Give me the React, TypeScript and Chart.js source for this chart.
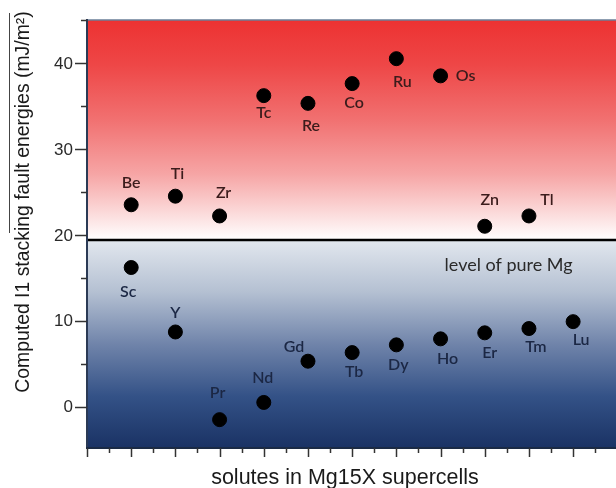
import React, { useEffect, useRef } from 'react';
import { Chart, registerables } from 'chart.js';

Chart.register(...registerables);

// ---- data ----
const topSolutes = ['Be', 'Ti', 'Zr', 'Tc', 'Re', 'Co', 'Ru', 'Os', 'Zn', 'Tl'];
const topPositions = [1, 2, 3, 4, 5, 6, 7, 8, 9, 10];
const topEnergies = [23.5, 24.5, 22.2, 36.2, 35.3, 37.6, 40.5, 38.5, 21.0, 22.2];

const bottomSolutes = ['Sc', 'Y', 'Pr', 'Nd', 'Gd', 'Tb', 'Dy', 'Ho', 'Er', 'Tm', 'Lu'];
const bottomPositions = [1, 2, 3, 4, 5, 6, 7, 8, 9, 10, 11];
const bottomEnergies = [16.2, 8.7, -1.5, 0.5, 5.3, 6.3, 7.2, 7.9, 8.6, 9.1, 9.9];

const pureMgLevel = 19.4;
const pureMgText = 'level of pure Mg';
const pureMgTextAt = { x: 9.54, y: 16.5 };

const yTickLabels = [0, 10, 20, 30, 40];
const yTitle = 'Computed I1 stacking fault energies (mJ/m\u00B2)';
const xTitle = 'solutes in Mg15X supercells';

// ---- styling (label offsets in px) ----
const topLabelOffsets = [[0, -22], [2, -22], [4, -23], [0, 17], [3, 22], [2, 19], [6, 23], [25, 0], [5, -26], [18, -16]];
const bottomLabelOffsets = [[-3, 24], [0, -19], [-2, -27], [-1, -25], [-14, -14], [2, 19], [2, 20], [7, 20], [5, 20], [7, 18], [8, 18]];

const bgPlugin = {
  id: 'bgPlugin',
  beforeDraw(chart: any) {
    const { ctx, chartArea } = chart;
    const { left, right, top, bottom } = chartArea;
    const yLine = chart.scales.y.getPixelForValue(pureMgLevel);
    ctx.save();
    const gr = ctx.createLinearGradient(0, top, 0, yLine);
    gr.addColorStop(0, 'rgb(237,50,50)');
    gr.addColorStop(0.2, 'rgb(238,70,70)');
    gr.addColorStop(0.45, 'rgb(241,112,112)');
    gr.addColorStop(0.7, 'rgb(246,165,165)');
    gr.addColorStop(1, 'rgb(255,255,255)');
    ctx.fillStyle = gr;
    ctx.fillRect(left, top, right - left, yLine - top);
    const gb = ctx.createLinearGradient(0, yLine, 0, bottom);
    gb.addColorStop(0, 'rgb(226,231,238)');
    gb.addColorStop(0.25, 'rgb(180,192,210)');
    gb.addColorStop(0.5, 'rgb(112,132,170)');
    gb.addColorStop(0.75, 'rgb(52,82,135)');
    gb.addColorStop(1, 'rgb(26,50,100)');
    ctx.fillStyle = gb;
    ctx.fillRect(left, yLine, right - left, bottom - yLine);
    ctx.restore();
  },
};

const decoPlugin = {
  id: 'decoPlugin',
  afterDatasetsDraw(chart: any) {
    const { ctx } = chart;
    ctx.save();
    ctx.font = '600 16px Lato';
    ctx.textAlign = 'center';
    ctx.textBaseline = 'middle';
    const sets = [
      { idx: 1, names: topSolutes, offs: topLabelOffsets, color: '#3b1c1c' },
      { idx: 2, names: bottomSolutes, offs: bottomLabelOffsets, color: '#1b2744' },
    ];
    for (const s of sets) {
      const meta = chart.getDatasetMeta(s.idx);
      ctx.fillStyle = s.color;
      meta.data.forEach((el: any, i: number) => {
        const o = s.offs[i] || [0, 0];
        ctx.fillText(s.names[i], el.x + o[0], el.y + o[1]);
      });
    }
    const xs = chart.scales.x;
    const ys = chart.scales.y;
    ctx.fillStyle = '#2a2a2a';
    ctx.font = '18px Lato';
    ctx.fillText(pureMgText, xs.getPixelForValue(pureMgTextAt.x), ys.getPixelForValue(pureMgTextAt.y));
    ctx.restore();
  },
  afterDraw(chart: any) {
    const { ctx, chartArea } = chart;
    const { left, right, top, bottom } = chartArea;
    const xs = chart.scales.x;
    const ys = chart.scales.y;
    ctx.save();
    // top border
    ctx.strokeStyle = '#6a7f99';
    ctx.lineWidth = 1.5;
    ctx.beginPath();
    ctx.moveTo(left, top);
    ctx.lineTo(right, top);
    ctx.stroke();
    // left axis
    ctx.strokeStyle = '#2b3a55';
    ctx.lineWidth = 2;
    ctx.beginPath();
    ctx.moveTo(left, top - 1);
    ctx.lineTo(left, bottom + 1);
    ctx.stroke();
    // bottom axis
    ctx.strokeStyle = '#1a2a45';
    ctx.beginPath();
    ctx.moveTo(left - 1, bottom);
    ctx.lineTo(right, bottom);
    ctx.stroke();
    // y ticks + labels
    ctx.strokeStyle = '#333';
    ctx.lineWidth = 1.5;
    ctx.fillStyle = '#2a2a2a';
    ctx.font = '17px "Liberation Sans", Arial, sans-serif';
    ctx.textAlign = 'right';
    ctx.textBaseline = 'middle';
    for (let v = 0; v <= ys.max; v += 5) {
      const py = Math.round(ys.getPixelForValue(v)) + 0.5;
      const len = v % 10 === 0 ? 12 : 6;
      ctx.beginPath();
      ctx.moveTo(left - len, py);
      ctx.lineTo(left, py);
      ctx.stroke();
    }
    for (const v of yTickLabels) {
      ctx.fillText(String(v), left - 14, ys.getPixelForValue(v) + 1);
    }
    // x ticks
    for (let v = 0; v <= xs.max; v += 0.5) {
      const px = Math.round(xs.getPixelForValue(v)) + 0.5;
      const len = Number.isInteger(v) ? 9 : 5;
      ctx.beginPath();
      ctx.moveTo(px, bottom);
      ctx.lineTo(px, bottom + len);
      ctx.stroke();
    }
    // y title
    ctx.fillStyle = '#1a1a1a';
    ctx.font = '19.4px "Liberation Sans", Arial, sans-serif';
    ctx.textAlign = 'center';
    ctx.textBaseline = 'middle';
    ctx.save();
    ctx.translate(24, 202);
    ctx.rotate(-Math.PI / 2);
    ctx.fillText(yTitle, 0, 0);
    ctx.restore();
    // overline
    ctx.strokeStyle = '#444';
    ctx.lineWidth = 1;
    ctx.beginPath();
    ctx.moveTo(9.5, 13);
    ctx.lineTo(9.5, 233);
    ctx.stroke();
    // x title
    ctx.font = '21.5px "Liberation Sans", Arial, sans-serif';
    ctx.fillText(xTitle, 345, 478);
    ctx.restore();
  },
};

export default function App() {
  const ref = useRef<HTMLCanvasElement>(null);
  useEffect(() => {
    document.body.style.margin = '0';
    const canvas = ref.current!;
    const chart = new Chart(canvas, {
      type: 'scatter',
      data: {
        datasets: [
          {
            type: 'line',
            data: [{ x: 0, y: pureMgLevel }, { x: 12, y: pureMgLevel }],
            borderColor: '#000',
            borderWidth: 2.5,
            pointRadius: 0,
          } as any,
          {
            data: topPositions.map((x, i) => ({ x, y: topEnergies[i] })),
            backgroundColor: '#000',
            borderColor: '#000',
            pointRadius: 7,
          },
          {
            data: bottomPositions.map((x, i) => ({ x, y: bottomEnergies[i] })),
            backgroundColor: '#000',
            borderColor: '#000',
            pointRadius: 7,
          },
        ],
      },
      options: {
        responsive: false,
        animation: false,
        devicePixelRatio: 1,
        layout: { autoPadding: false, padding: { top: 20, left: 0, right: 0, bottom: 0 } },
        plugins: { legend: { display: false }, tooltip: { enabled: false } },
        scales: {
          x: {
            type: 'linear',
            min: 0,
            max: 11.97,
            grid: { display: false, drawTicks: false },
            border: { display: false },
            ticks: { display: false },
            afterFit: (s: any) => { s.height = 40; },
          },
          y: {
            type: 'linear',
            min: -4.8,
            max: 45,
            grid: { display: false, drawTicks: false },
            border: { display: false },
            ticks: { display: false },
            afterFit: (s: any) => { s.width = 87; },
          },
        },
      },
      plugins: [bgPlugin, decoPlugin],
    });
    return () => chart.destroy();
  }, []);
  return (
    <div style={{ position: 'absolute', left: 0, top: 0, width: 616, height: 488 }}>
      <canvas ref={ref} width={616} height={488} style={{ display: 'block' }} />
    </div>
  );
}
